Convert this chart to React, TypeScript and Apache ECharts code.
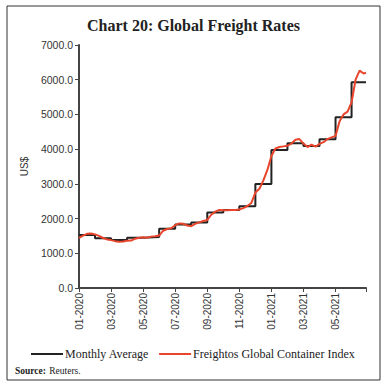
import React, { useEffect, useRef } from "react";
import * as echarts from "echarts";

// Months since Jan 2020 (0 = start of Jan 2020)
const monthIndex: number[] = [0, 1, 2, 3, 4, 5, 6, 7, 8, 9, 10, 11, 12, 13, 14, 15, 16, 17];
const monthlyAverage: number[] = [
  1527, 1430, 1385, 1450, 1470, 1705, 1830, 1890, 2175, 2248, 2355, 2997,
  3977, 4170, 4092, 4285, 4919, 5928,
];
const lastMonthEnd = 17.9;

// Freightos index, read at quarter-month positions
const fbxTime: number[] = [
  0, 0.25, 0.5, 0.75, 1, 1.25, 1.5, 1.75, 2, 2.25, 2.5, 2.75, 3, 3.25, 3.5, 3.75,
  4, 4.25, 4.5, 4.75, 5, 5.25, 5.5, 5.75, 6, 6.25, 6.5, 6.75, 7, 7.25, 7.5, 7.75,
  8, 8.25, 8.5, 8.75, 9, 9.25, 9.5, 9.75, 10, 10.25, 10.5, 10.75, 11, 11.25, 11.5, 11.75,
  12, 12.25, 12.5, 12.75, 13, 13.25, 13.5, 13.75, 14, 14.25, 14.5, 14.75, 15, 15.25, 15.5, 15.75,
  16, 16.25, 16.5, 16.75, 17, 17.25, 17.5, 17.75, 17.9,
];
const fbxValues: number[] = [
  1440, 1510, 1560, 1570, 1545, 1500, 1440, 1400, 1380, 1350, 1335, 1340, 1360, 1365, 1420, 1450,
  1460, 1450, 1480, 1490, 1510, 1650, 1700, 1720, 1810, 1860, 1850, 1800, 1780, 1850, 1890, 1930,
  1960, 2110, 2200, 2250, 2240, 2240, 2250, 2250, 2260, 2300, 2360, 2450, 2750, 2860, 3100, 3400,
  3800, 4020, 4060, 4080, 4100, 4160, 4270, 4290, 4160, 4060, 4130, 4070, 4150, 4200, 4290, 4340,
  4380, 4800, 5000, 5080, 5350, 6000, 6260, 6180, 6200,
];

const title = "Chart 20: Global Freight Rates";
const yName = "US$";
const seriesNames = ["Monthly Average", "Freightos Global Container Index"];

function monthLabel(v: number): string {
  const m = Math.round(v);
  if (m > 16) return "";
  const month = (m % 12) + 1;
  const year = 2020 + Math.floor(m / 12);
  return (month < 10 ? "0" : "") + month + "-" + year;
}

export default function App() {
  const ref = useRef<HTMLDivElement>(null);
  useEffect(() => {
    if (!ref.current) return;
    const chart = echarts.init(ref.current, undefined, { renderer: "svg" });
    const avgData = monthIndex.map((m, i) => [m, monthlyAverage[i]]);
    avgData.push([lastMonthEnd, monthlyAverage[monthlyAverage.length - 1]]);
    const fbxData = fbxTime.map((t, i) => [t, fbxValues[i]]);
    chart.setOption({
      animation: false,
      backgroundColor: "#ffffff",
      title: {
        text: title,
        left: "center",
        top: 12,
        textStyle: {
          fontFamily: "Liberation Serif",
          fontWeight: "bold",
          fontSize: 16,
          color: "#222",
        },
      },
      graphic: [
        {
          type: "rect",
          shape: { x: 7, y: 6, width: 373, height: 374 },
          style: { fill: "none", stroke: "#333", lineWidth: 1 },
          silent: true,
        },
        {
          type: "text",
          left: 15,
          top: 365,
          style: {
            text: "{b|Source:} {r|Reuters.}",
            rich: {
              b: { fontFamily: "Liberation Serif", fontWeight: "bold", fontSize: 9.5, fill: "#222" },
              r: { fontFamily: "Liberation Serif", fontSize: 9.5, fill: "#222" },
            },
          },
        },
      ],
      legend: {
        top: 343,
        left: 26,
        itemWidth: 32,
        itemHeight: 2,
        itemGap: 10,
        icon: "rect",
        textStyle: {
          fontFamily: "Liberation Serif",
          fontSize: 12,
          color: "#222",
          padding: [0, 0, 0, -3],
        },
        data: [
          { name: seriesNames[0], itemStyle: { color: "#222" } },
          { name: seriesNames[1], itemStyle: { color: "#e8452c" } },
        ],
      },
      grid: { left: 79, right: 21, top: 45, bottom: 100, containLabel: false },
      xAxis: {
        type: "value",
        min: 0,
        max: lastMonthEnd,
        interval: 2,
        axisLine: { show: true, lineStyle: { color: "#444", width: 2 } },
        axisTick: { show: true, length: 4, lineStyle: { color: "#444", width: 1 } },
        splitLine: { show: false },
        axisLabel: {
          rotate: 90,
          margin: 5,
          formatter: monthLabel,
          fontFamily: "Liberation Sans",
          fontSize: 10,
          color: "#333",
        },
      },
      yAxis: {
        type: "value",
        min: 0,
        max: 7000,
        interval: 1000,
        name: yName,
        nameLocation: "middle",
        nameGap: 50,
        nameRotate: 90,
        nameTextStyle: { fontFamily: "Liberation Sans", fontSize: 10, color: "#333" },
        axisLine: { show: true, lineStyle: { color: "#444", width: 2 } },
        axisTick: { show: true, length: 4, lineStyle: { color: "#444", width: 1 } },
        splitLine: { show: false },
        axisLabel: {
          margin: 6,
          formatter: (v: number) => v.toFixed(1),
          fontFamily: "Liberation Sans",
          fontSize: 10.5,
          color: "#333",
        },
      },
      series: [
        {
          name: seriesNames[0],
          type: "line",
          step: "end",
          data: avgData,
          symbol: "none",
          lineStyle: { color: "#222", width: 2 },
          itemStyle: { color: "#222" },
        },
        {
          name: seriesNames[1],
          type: "line",
          data: fbxData,
          symbol: "none",
          lineStyle: { color: "#e8452c", width: 2 },
          itemStyle: { color: "#e8452c" },
        },
      ],
    });
    return () => chart.dispose();
  }, []);
  return (
    <div
      ref={ref}
      style={{ position: "fixed", left: 0, top: 0, width: 387, height: 388 }}
    />
  );
}
